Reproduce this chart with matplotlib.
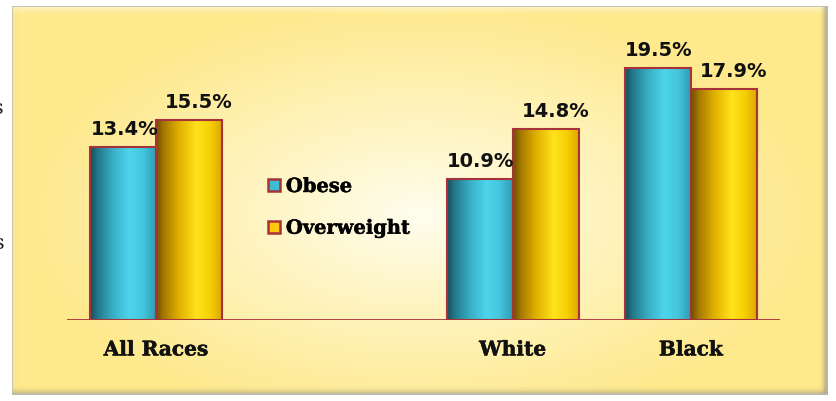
import numpy as np
import matplotlib
matplotlib.use("Agg")
import matplotlib.pyplot as plt
import matplotlib.patheffects as pe
from matplotlib.colors import LinearSegmentedColormap
from matplotlib.patches import Rectangle

# ---------------- data ----------------
categories = ["All Races", "", "White", "Black"]
obese = [13.4, np.nan, 10.9, 19.5]
overweight = [15.5, np.nan, 14.8, 17.9]
series_names = ["Obese", "Overweight"]

# ---------------- figure ----------------
W, H = 836, 402
fig = plt.figure(figsize=(W / 100, H / 100), dpi=100)
fig.patch.set_facecolor("white")

# background panel with radial gradient and bevel
PX0, PY0, PW, PH = 12, 7, 816, 389
bg = fig.add_axes([PX0 / W, (H - PY0 - PH) / H, PW / W, PH / H])
bg.axis("off")
yy, xx = np.mgrid[0:PH, 0:PW].astype(float)
cx, cy = 420 - PX0, 215 - PY0
r = np.sqrt(((xx - cx) / 400.0) ** 2 + ((yy - cy) / 215.0) ** 2)
r = np.clip(r, 0, 1) ** 0.9
inner = np.array([255, 254, 240]) / 255.0
outer = np.array([254, 233, 140]) / 255.0
img = inner[None, None, :] * (1 - r[..., None]) + outer[None, None, :] * r[..., None]
# bevel
b = 9.0
dark = np.array([125, 122, 105]) / 255.0
light = np.array([255, 250, 225]) / 255.0
fr = np.clip(1 - (PW - 1 - xx) / b, 0, 1) ** 2 * 0.75
fb = np.clip(1 - (PH - 1 - yy) / b, 0, 1) ** 2 * 0.55
ft = np.clip(1 - yy / b, 0, 1) ** 1.5 * 0.7
fl = np.clip(1 - xx / b, 0, 1) ** 1.5 * 0.35
for f, c in ((ft, light), (fl, np.array([240, 225, 150]) / 255.0), (fb, dark), (fr, dark)):
    img = img * (1 - f[..., None]) + c[None, None, :] * f[..., None]
bg.imshow(img, extent=[0, PW, PH, 0], aspect="auto", interpolation="bilinear")
bg.set_xlim(0, PW)
bg.set_ylim(PH, 0)
bg.add_patch(Rectangle((0, 0), PW - 1, PH - 1, fill=False, edgecolor="#BDBCB4", lw=1.2))

# cut-off axis-title remnants at the far left (as in the reference)
fig.text(4 / W, 1 - 108 / H, "s", ha="right", va="center", fontsize=15, family="DejaVu Serif", color="#222222")
fig.text(5 / W, 1 - 244 / H, "s", ha="right", va="center", fontsize=15, family="DejaVu Serif", color="#222222")

# ---------------- main axes ----------------
base_px, top_px = 321, 24
ax = fig.add_axes([67 / W, (H - base_px) / H, 713 / W, (base_px - top_px) / H])
ax.patch.set_alpha(0)
for s in ax.spines.values():
    s.set_visible(False)

x = np.arange(len(categories))
bw = 0.37
edge = "#A8323A"

cyan_cm = LinearSegmentedColormap.from_list(
    "cyl_cyan",
    [(0.0, "#174E5C"), (0.12, "#23798A"), (0.35, "#39AFC6"), (0.6, "#4DD5EC"),
     (0.8, "#44C6DE"), (1.0, "#2F9CB3")])
gold_cm = LinearSegmentedColormap.from_list(
    "cyl_gold",
    [(0.0, "#6E4E00"), (0.12, "#A57A00"), (0.35, "#E0B000"), (0.62, "#FFE31C"),
     (0.82, "#F6CF05"), (1.0, "#DDA800")])
grad = np.linspace(0, 1, 256)[None, :]

bold_fx = [pe.withStroke(linewidth=0.35, foreground="#111111")]

for vals, off, cm, dx in ((obese, -bw / 2, cyan_cm, 1), (overweight, bw / 2, gold_cm, 10)):
    bars = ax.bar(x + off, np.nan_to_num(vals), width=bw, facecolor="none",
                  edgecolor=edge, linewidth=1.5, zorder=3)
    for rect, v in zip(bars, vals):
        if np.isnan(v):
            rect.set_visible(False)
            continue
        x0, w_, h_ = rect.get_x(), rect.get_width(), rect.get_height()
        im = ax.imshow(grad, extent=[x0, x0 + w_, 0, h_], aspect="auto",
                       cmap=cm, zorder=2, interpolation="bilinear")
        im.set_clip_path(rect)
        ax.annotate(f"{v}%", (x0 + w_ / 2, h_), xytext=(dx * 0.72, 13 * 0.72),
                    textcoords="offset points", ha="center", va="baseline",
                    fontsize=14, fontweight="bold", family="DejaVu Sans",
                    color="#111111", zorder=4)

ax.axhline(0, color=edge, lw=2, zorder=5)
ax.set_xlim(-0.5, 3.5)
ax.set_ylim(0, (base_px - top_px) / 12.9)
ax.set_yticks([])
ax.set_xticks(x)
ax.set_xticklabels(categories, fontsize=14.5, fontweight="bold", family="DejaVu Serif", color="#111111")
for t in ax.get_xticklabels():
    t.set_path_effects(bold_fx)
ax.tick_params(axis="x", length=0, pad=14)

# legend
handles = [Rectangle((0, 0), 1, 1, facecolor="#3DBCD4", edgecolor=edge, lw=1.8),
           Rectangle((0, 0), 1, 1, facecolor="#FFC90E", edgecolor=edge, lw=1.8)]
leg = ax.legend(handles, series_names, loc="upper left",
                bbox_to_anchor=(268 / W, 1 - 179 / H), bbox_transform=fig.transFigure,
                frameon=False, handlelength=0.62, handleheight=0.62, handletextpad=0.3,
                labelspacing=1.22, borderpad=0, borderaxespad=0,
                prop={"family": "DejaVu Serif", "weight": "bold", "size": 14})
for t in leg.get_texts():
    t.set_path_effects(bold_fx)

fig.savefig("out.png", dpi=100)
